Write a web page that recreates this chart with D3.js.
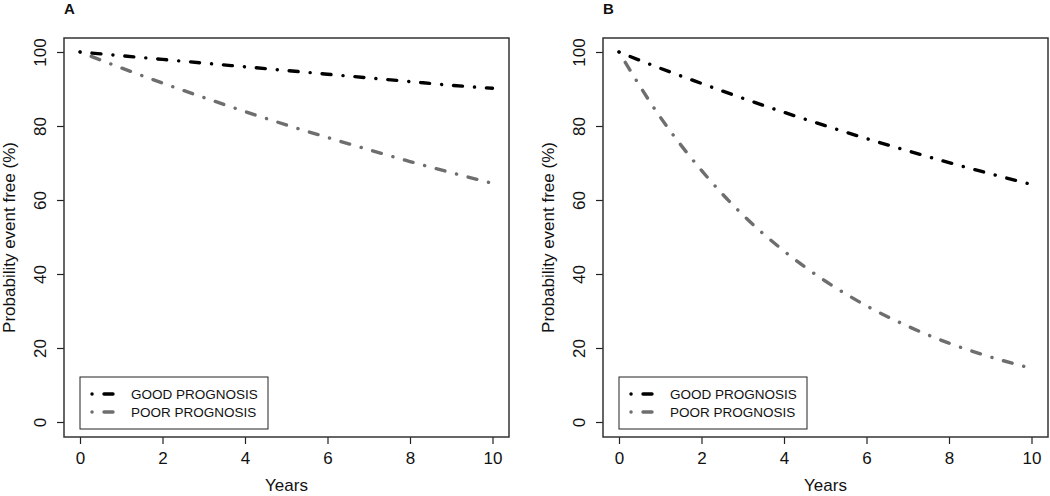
<!DOCTYPE html>
<html>
<head>
<meta charset="utf-8">
<script src="https://cdn.jsdelivr.net/npm/d3@7"></script>
<style>
  body { margin: 0; background: #fff; }
  svg text { font-family: "Liberation Sans", Arial, sans-serif; fill: #111; }
</style>
</head>
<body>
<div id="chart"></div>
<script>
// Event-free probability curves, two panels (A, B)

var years = [0, 1, 2, 3, 4, 5, 6, 7, 8, 9, 10];

// panel A
var goodA = [100, 99, 98, 97, 96, 95, 94, 93, 92, 91, 90.2];
var poorA = [100, 95.7, 91.6, 87.7, 83.9, 80.3, 76.9, 73.6, 70.4, 67.4, 64.5];

// panel B
var goodB = [100, 95.6, 91.5, 87.5, 83.7, 80.1, 76.6, 73.3, 70.1, 67.1, 64.2];
var poorB = [100, 82.4, 68, 56, 46.2, 38.1, 31.4, 25.9, 21.3, 17.6, 14.5];

var xTicks = [0, 2, 4, 6, 8, 10];
var yTicks = [0, 20, 40, 60, 80, 100];
var legendLabels = ["GOOD PROGNOSIS", "POOR PROGNOSIS"];
var panels = [
  { label: "A", good: goodA, poor: poorA },
  { label: "B", good: goodB, poor: poorB }
];

var svgWidth = 1050;
var svgHeight = 496;
var colors = ["#000000", "#6e6e6e"];
// R "dotdash" with round line ends
var dash = "0.1,11.9,9,12";

var svg = d3.select("#chart")
  .append("svg")
  .attr("width", svgWidth)
  .attr("height", svgHeight);

panels.forEach(function(p, i) {
  var g = svg.append("g")
    .attr("transform", `translate(${i * 539}, 0)`);

  // box edges
  var boxL = 64, boxR = 509, boxT = 38, boxB = 437;

  var x = d3.scaleLinear().domain([0, 10]).range([80, 492.5]);
  var y = d3.scaleLinear().domain([0, 100]).range([422, 52]);

  // x axis
  var xAxis = g.append("g")
    .attr("transform", `translate(0, ${boxB})`)
    .call(d3.axisBottom(x).tickValues(xTicks).tickSize(7).tickPadding(8).tickFormat(d3.format("d")));
  xAxis.select(".domain").remove();
  xAxis.selectAll("line").attr("stroke", "#222").attr("stroke-width", 1.2);
  xAxis.selectAll("text").attr("font-size", 17).attr("fill", "#111")
    .style("font-family", "Liberation Sans, Arial, sans-serif");

  // y axis, labels rotated like R
  var yAxis = g.append("g")
    .attr("transform", `translate(${boxL}, 0)`)
    .call(d3.axisLeft(y).tickValues(yTicks).tickSize(7).tickFormat(d3.format("d")));
  yAxis.select(".domain").remove();
  yAxis.selectAll("line").attr("stroke", "#222").attr("stroke-width", 1.2);
  yAxis.selectAll("text")
    .attr("font-size", 17).attr("fill", "#111")
    .style("font-family", "Liberation Sans, Arial, sans-serif")
    .attr("x", null).attr("dy", null)
    .attr("text-anchor", "middle")
    .attr("transform", "translate(-18, 0) rotate(-90)")
    .attr("y", 0);

  // plot box
  g.append("rect")
    .attr("x", boxL).attr("y", boxT)
    .attr("width", boxR - boxL).attr("height", boxB - boxT)
    .attr("fill", "none").attr("stroke", "#333").attr("stroke-width", 1.5);

  // curves
  var line = d3.line()
    .x((d, j) => x(years[j]))
    .y(d => y(d))
    .curve(d3.curveMonotoneX);

  [p.poor, p.good].forEach(function(series, k) {
    g.append("path")
      .datum(series)
      .attr("d", line)
      .attr("fill", "none")
      .attr("stroke", colors[1 - k])
      .attr("stroke-width", 3.4)
      .attr("stroke-linecap", "round")
      .attr("stroke-dasharray", dash);
  });

  // axis titles
  g.append("text")
    .attr("x", (boxL + boxR) / 2)
    .attr("y", 491)
    .attr("text-anchor", "middle")
    .attr("font-size", 17)
    .text("Years");

  g.append("text")
    .attr("transform", `translate(15, ${(boxT + boxB) / 2}) rotate(-90)`)
    .attr("text-anchor", "middle")
    .attr("font-size", 17)
    .text("Probability event free (%)");

  // panel label
  g.append("text")
    .attr("x", boxL)
    .attr("y", 14)
    .attr("font-size", 15)
    .attr("font-weight", "bold")
    .text(p.label);

  // legend
  var leg = g.append("g");
  leg.append("rect")
    .attr("x", 80).attr("y", 377)
    .attr("width", 188).attr("height", 52)
    .attr("fill", "#fff").attr("stroke", "#222").attr("stroke-width", 1);

  legendLabels.forEach(function(lab, k) {
    var ly = 394 + k * 18;
    leg.append("line")
      .attr("x1", 92).attr("x2", 117)
      .attr("y1", ly).attr("y2", ly)
      .attr("stroke", colors[k])
      .attr("stroke-width", 3.4)
      .attr("stroke-linecap", "round")
      .attr("stroke-dasharray", dash);
    leg.append("text")
      .attr("x", 131)
      .attr("y", ly + 5)
      .attr("font-size", 13.5)
      .text(lab);
  });
});
</script>
</body>
</html>
